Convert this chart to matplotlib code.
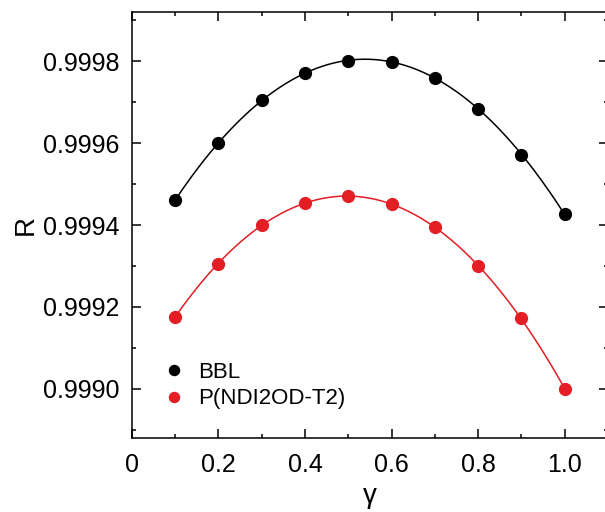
import matplotlib.pyplot as plt
import numpy as np
from matplotlib.ticker import MultipleLocator, FormatStrFormatter

plt.rcParams['font.family'] = ['Liberation Sans', 'DejaVu Sans']

# data
gamma = [0.1, 0.2, 0.3, 0.4, 0.5, 0.6, 0.7, 0.8, 0.9, 1.0]
r_bbl = [0.999461, 0.999600, 0.999706, 0.999770, 0.999800,
         0.999799, 0.999760, 0.999684, 0.999571, 0.999426]
r_ndi = [0.999176, 0.999306, 0.999400, 0.999453, 0.999471,
         0.999451, 0.999395, 0.999299, 0.999172, 0.999000]
labels = ['BBL', 'P(NDI2OD-T2)']
colors = ['black', '#e31e24']

fig = plt.figure(figsize=(6.05, 5.12), dpi=100)
ax = fig.add_axes([0.218, 0.1445, 0.787, 0.832])

x = np.array(gamma)
xs = np.linspace(x.min(), x.max(), 200)
for ys, lab, col in zip([r_bbl, r_ndi], labels, colors):
    # smooth fit curve through the points
    y = np.array(ys)
    p = np.polyfit(x, y - 0.9995, 4)
    ax.plot(xs, np.polyval(p, xs) + 0.9995, color=col, lw=1.1, zorder=2)
    ax.plot(x, y, 'o', color=col, ms=8.5, label=lab, zorder=3)

ax.set_xlim(0, 1.1)
ax.set_ylim(0.99888, 0.99992)
ax.xaxis.set_major_locator(MultipleLocator(0.2))
ax.xaxis.set_minor_locator(MultipleLocator(0.1))
ax.yaxis.set_major_locator(MultipleLocator(0.0002))
ax.yaxis.set_minor_locator(MultipleLocator(0.0001))
ax.yaxis.set_major_formatter(FormatStrFormatter('%.4f'))
ax.xaxis.set_major_formatter(plt.FuncFormatter(lambda v, p: '0' if abs(v) < 1e-9 else '%.1f' % v))

ax.tick_params(which='both', direction='in', top=True, right=True, labelsize=18, width=1.1)
ax.tick_params(which='major', length=6.5)
ax.tick_params(axis='x', which='major', pad=11)
ax.tick_params(axis='y', which='major', pad=9)
ax.tick_params(which='minor', length=3)
for s in ax.spines.values():
    s.set_linewidth(1.1)

ax.set_xlabel('γ', fontsize=20, labelpad=4)
ax.set_ylabel('R', fontsize=20, labelpad=3)

ax.legend(loc='lower left', bbox_to_anchor=(0.0, 0.02), frameon=False, fontsize=16,
          handletextpad=0.1, labelspacing=0.25, markerscale=0.85)

fig.savefig('out.png', dpi=100)
